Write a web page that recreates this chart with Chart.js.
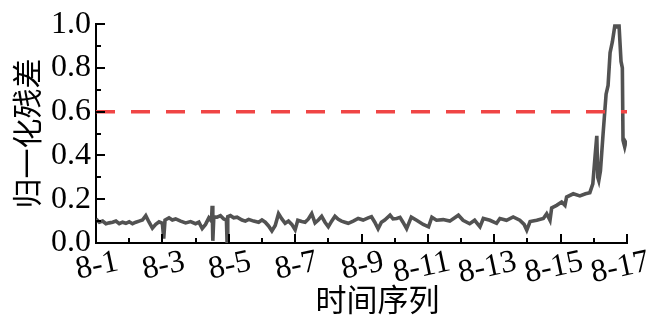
<!DOCTYPE html>
<html>
<head>
<meta charset="utf-8">
<script src="https://cdn.jsdelivr.net/npm/chart.js@4.4.0/dist/chart.umd.min.js"></script>
<style>
html, body { margin: 0; padding: 0; background: #fff; }
</style>
</head>
<body>
<canvas id="chart" width="665" height="323"></canvas>
<script>
// time in days of August, normalized residual
const times = [
  1.00, 1.10, 1.20, 1.30, 1.40, 1.50, 1.60, 1.70, 1.80, 1.90,
  2.00, 2.10, 2.20, 2.30, 2.40, 2.50, 2.60, 2.70, 2.80, 2.90,
  3.00, 3.04, 3.08, 3.20, 3.30, 3.40, 3.55, 3.70, 3.85, 4.00,
  4.10, 4.20, 4.30, 4.40, 4.48, 4.50, 4.52, 4.55, 4.65, 4.75,
  4.85, 4.93, 4.95, 4.97, 5.05, 5.15, 5.25, 5.40, 5.50, 5.60,
  5.75, 5.90, 6.00, 6.10, 6.20, 6.30, 6.40, 6.50, 6.60, 6.70,
  6.80, 6.90, 7.00, 7.08, 7.20, 7.30, 7.40, 7.50, 7.60, 7.70,
  7.80, 7.90, 8.00, 8.10, 8.20, 8.30, 8.40, 8.50, 8.60, 8.75,
  8.90, 9.05, 9.20, 9.30, 9.40, 9.50, 9.60, 9.70, 9.86, 9.95,
  10.06, 10.16, 10.25, 10.36, 10.50, 10.66, 10.86, 11.02, 11.12, 11.26,
  11.46, 11.66, 11.92, 12.06, 12.26, 12.41, 12.57, 12.67, 12.87, 13.07,
  13.17, 13.37, 13.57, 13.77, 13.90, 13.98, 14.08, 14.28, 14.48, 14.58,
  14.68, 14.73, 14.88, 15.03, 15.13, 15.18, 15.38, 15.58, 15.75, 15.88,
  15.97, 16.04, 16.09, 16.12, 16.15, 16.20, 16.28, 16.37, 16.43, 16.49,
  16.56, 16.64, 16.70, 16.76, 16.82, 16.86, 16.88, 16.93, 16.96, 17.00
];
const residuals = [
  0.110, 0.095, 0.100, 0.088, 0.092, 0.095, 0.100, 0.088, 0.095, 0.090,
  0.097, 0.088, 0.095, 0.100, 0.105, 0.125, 0.095, 0.068, 0.085, 0.097,
  0.090, 0.020, 0.105, 0.115, 0.105, 0.110, 0.100, 0.092, 0.098, 0.088,
  0.095, 0.066, 0.085, 0.115, 0.100, 0.170, 0.010, 0.120, 0.118, 0.125,
  0.110, 0.105, 0.000, 0.120, 0.125, 0.115, 0.118, 0.105, 0.100, 0.108,
  0.100, 0.095, 0.105, 0.095, 0.078, 0.055, 0.080, 0.134, 0.110, 0.090,
  0.100, 0.085, 0.060, 0.104, 0.098, 0.095, 0.110, 0.134, 0.092, 0.105,
  0.122, 0.095, 0.074, 0.100, 0.122, 0.108, 0.100, 0.095, 0.090, 0.100,
  0.112, 0.105, 0.115, 0.120, 0.095, 0.065, 0.095, 0.105, 0.127, 0.110,
  0.112, 0.117, 0.095, 0.066, 0.118, 0.104, 0.085, 0.074, 0.118, 0.104,
  0.107, 0.100, 0.127, 0.104, 0.088, 0.104, 0.074, 0.112, 0.104, 0.090,
  0.112, 0.104, 0.119, 0.104, 0.085, 0.059, 0.098, 0.104, 0.112, 0.134,
  0.104, 0.160, 0.172, 0.187, 0.172, 0.210, 0.225, 0.215, 0.225, 0.230,
  0.270, 0.400, 0.490, 0.300, 0.285, 0.330, 0.500, 0.680, 0.720, 0.870,
  0.920, 1.000, 0.990, 0.995, 0.830, 0.800, 0.470, 0.440, 0.460, 0.450
];
const threshold = 0.6;

const xTickDays = [1, 3, 5, 7, 9, 11, 13, 15, 17];
const xTickLabels = ['8-1', '8-3', '8-5', '8-7', '8-9', '8-11', '8-13', '8-15', '8-17'];
const xMinorDays = [2, 4, 6, 8, 10, 12, 14, 16];
const yTicks = [0, 0.2, 0.4, 0.6, 0.8, 1.0];
const yMinorTicks = [0.1, 0.3, 0.5, 0.7, 0.9];
const xTitle = '时间序列';
const yTitle = '归一化残差';

const fontFamily = '"Liberation Serif", "Noto Sans CJK SC", serif';

// ticks inside the plot, like the original figure
const innerTicks = {
  id: 'innerTicks',
  afterDatasetsDraw(chart) {
    const { ctx, chartArea, scales: { x, y } } = chart;
    ctx.save();
    ctx.strokeStyle = '#000';
    ctx.lineWidth = 2;
    ctx.beginPath();
    xTickDays.forEach(d => {
      const px = Math.round(x.getPixelForValue(d));
      ctx.moveTo(px, chartArea.bottom); ctx.lineTo(px, chartArea.bottom - 9);
    });
    xMinorDays.forEach(d => {
      const px = Math.round(x.getPixelForValue(d));
      ctx.moveTo(px, chartArea.bottom); ctx.lineTo(px, chartArea.bottom - 5);
    });
    yTicks.forEach(v => {
      const py = Math.round(y.getPixelForValue(v));
      ctx.moveTo(chartArea.left, py); ctx.lineTo(chartArea.left + 9, py);
    });
    yMinorTicks.forEach(v => {
      const py = Math.round(y.getPixelForValue(v));
      ctx.moveTo(chartArea.left, py); ctx.lineTo(chartArea.left + 5, py);
    });
    ctx.stroke();
    ctx.restore();
  }
};

// x title sits a bit right of the plot centre in the original
const xTitlePlugin = {
  id: 'xTitlePlugin',
  afterDraw(chart) {
    const { ctx, chartArea } = chart;
    ctx.save();
    ctx.fillStyle = '#000';
    ctx.font = '31px ' + fontFamily;
    ctx.textAlign = 'center';
    ctx.textBaseline = 'middle';
    ctx.fillText(xTitle, (chartArea.left + chartArea.right) / 2 + 16, 303);
    ctx.restore();
  }
};

new Chart(document.getElementById('chart'), {
  type: 'line',
  data: {
    datasets: [
      {
        data: [{ x: 1, y: threshold }, { x: 17, y: threshold }],
        borderColor: '#f04545',
        borderWidth: 3.5,
        borderDash: [19, 16],
        pointRadius: 0
      },
      {
        data: times.map((t, i) => ({ x: t, y: residuals[i] })),
        borderColor: '#525252',
        borderWidth: 3.6,
        pointRadius: 0,
        tension: 0
      }
    ]
  },
  options: {
    responsive: false,
    animation: false,
    devicePixelRatio: 1,
    layout: { padding: { top: 22, right: 38, left: 0, bottom: 0 } },
    plugins: { legend: { display: false }, tooltip: { enabled: false } },
    scales: {
      x: {
        type: 'linear',
        min: 1,
        max: 17,
        afterBuildTicks: s => { s.ticks = xTickDays.map(v => ({ value: v })); },
        afterFit: s => { s.height = 80; },
        grid: { display: false, drawTicks: false },
        border: { color: '#000', width: 2 },
        ticks: {
          autoSkip: false,
          minRotation: 12,
          maxRotation: 12,
          padding: 0,
          labelOffset: 22,
          color: '#000',
          font: { family: fontFamily, size: 32 },
          callback: (v, i) => xTickLabels[i]
        },
        title: { display: false }
      },
      y: {
        min: 0,
        max: 1,
        afterBuildTicks: s => { s.ticks = yTicks.map(v => ({ value: v })); },
        afterFit: s => { s.width = 96; },
        grid: { display: false, drawTicks: false },
        border: { color: '#000', width: 2 },
        ticks: {
          padding: 5,
          color: '#000',
          font: { family: fontFamily, size: 32 },
          callback: v => v.toFixed(1)
        },
        title: {
          display: true,
          text: yTitle,
          color: '#000',
          padding: { top: 12, bottom: 0 },
          font: { family: fontFamily, size: 30 }
        }
      }
    }
  },
  plugins: [innerTicks, xTitlePlugin]
});
</script>
</body>
</html>
